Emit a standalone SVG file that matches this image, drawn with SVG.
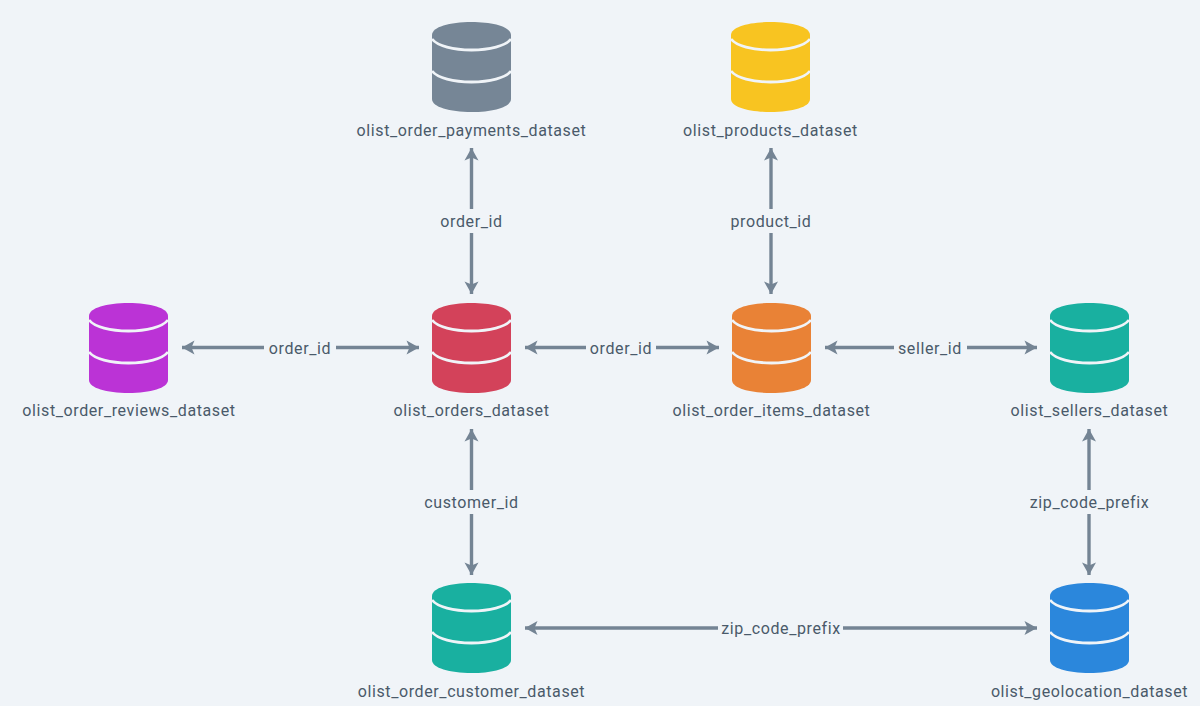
<svg xmlns="http://www.w3.org/2000/svg" width="1200" height="706" viewBox="0 0 1200 706">
<style>
text{font-family:"Roboto","Liberation Sans",sans-serif;font-size:16px;letter-spacing:.6px;fill:#4a5a6a;text-anchor:middle}
.c{fill:none;stroke:#748494;stroke-width:3.4;marker-end:url(#a)}
</style>
<defs>
<marker id="a" markerUnits="userSpaceOnUse" markerWidth="16" markerHeight="16" refX="14" refY="8" orient="auto"><path d="M14 8L1.500 1L4.500 8L1.500 15Z" fill="#748494"/></marker>
<g id="cyl">
<path d="M-39.500 13C-39.500 5-22 0 0 0S39.500 5 39.500 13V77C39.500 85 22 90 0 90S-39.500 85-39.500 77Z"/>
<path d="M-39.500 17C-34 24-18 28 0 28S34 24 39.500 17M-39.500 49C-34 56-18 60 0 60S34 56 39.500 49" fill="none" stroke="#f0f4f8" stroke-width="2.800"/>
</g>
</defs>
<rect width="1200" height="706" fill="#f0f4f8"/>
<g id="connectors">
<path class="c" d="M471.500 209V148"/><path class="c" d="M471.500 233V294"/>
<path class="c" d="M771 209V148"/><path class="c" d="M771 233V294"/>
<path class="c" d="M264 347.500H182"/><path class="c" d="M336 347.500H419"/>
<path class="c" d="M586 347.500H525"/><path class="c" d="M656 347.500H719"/>
<path class="c" d="M894 347.500H825"/><path class="c" d="M967 347.500H1037"/>
<path class="c" d="M471.500 490V429"/><path class="c" d="M471.500 514V575"/>
<path class="c" d="M1089 490V429"/><path class="c" d="M1089 514V575"/>
<path class="c" d="M718 628H525"/><path class="c" d="M843 628H1037"/>
<text x="471.500" y="226.500">order_id</text>
<text x="771" y="226.500">product_id</text>
<text x="300" y="353.500">order_id</text>
<text x="621" y="353.500">order_id</text>
<text x="930" y="353.500">seller_id</text>
<text x="471.500" y="507.500">customer_id</text>
<text x="1089.500" y="507.500">zip_code_prefix</text>
<text x="781" y="633.500">zip_code_prefix</text>
</g>
<g id="payments"><use href="#cyl" x="471.500" y="22" fill="#768696"/><text x="471.500" y="135.500">olist_order_payments_dataset</text></g>
<g id="products"><use href="#cyl" x="770.500" y="22" fill="#f8c421"/><text x="770.500" y="135.500">olist_products_dataset</text></g>
<g id="reviews"><use href="#cyl" x="128.500" y="303" fill="#bb33d6"/><text x="129" y="415.500">olist_order_reviews_dataset</text></g>
<g id="orders"><use href="#cyl" x="471.500" y="303" fill="#d3425a"/><text x="471.500" y="415.500">olist_orders_dataset</text></g>
<g id="items"><use href="#cyl" x="771.500" y="303" fill="#e98236"/><text x="771.500" y="415.500">olist_order_items_dataset</text></g>
<g id="sellers"><use href="#cyl" x="1089.500" y="303" fill="#19b0a0"/><text x="1089.500" y="415.500">olist_sellers_dataset</text></g>
<g id="customers"><use href="#cyl" x="471.500" y="583" fill="#19b0a0"/><text x="471.500" y="696.500">olist_order_customer_dataset</text></g>
<g id="geolocation"><use href="#cyl" x="1089.500" y="583" fill="#2b87dc"/><text x="1089.500" y="696.500">olist_geolocation_dataset</text></g>
</svg>
